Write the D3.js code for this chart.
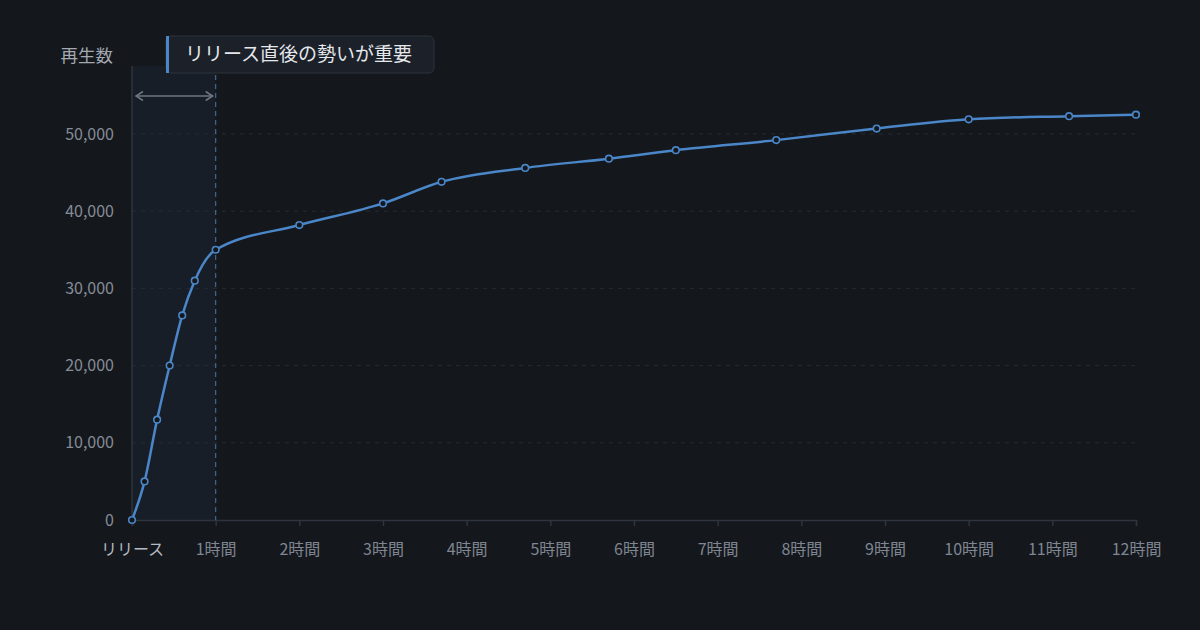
<!DOCTYPE html>
<html>
<head>
<meta charset="utf-8">
<script src="https://cdn.jsdelivr.net/npm/d3@7"></script>
<style>
  html, body { margin: 0; padding: 0; background: #14171c; }
  svg { display: block; font-family: "Noto Sans CJK JP", "Noto Sans", sans-serif; }
</style>
</head>
<body>
<div id="chart"></div>
<script>
"use strict";

// hours since release
const hours = [0, 0.15, 0.3, 0.45, 0.6, 0.75, 1, 2, 3, 3.7, 4.7, 5.7, 6.5, 7.7, 8.9, 10, 11.2, 12];
// play count
const plays = [0, 5000, 13000, 20000, 26500, 31000, 35000, 38200, 41000, 43800, 45600, 46800, 47900, 49200, 50700, 51900, 52300, 52500];

const xTicks = [0, 1, 2, 3, 4, 5, 6, 7, 8, 9, 10, 11, 12];
const xTickLabels = ["リリース", "1時間", "2時間", "3時間", "4時間", "5時間", "6時間", "7時間", "8時間", "9時間", "10時間", "11時間", "12時間"];
const yTicks = [0, 10000, 20000, 30000, 40000, 50000];

const yTitle = "再生数";
const callout = "リリース直後の勢いが重要";
const focusEnd = 1; // hours

const width = 1200, height = 630;
const margin = {top: 66, right: 64, bottom: 110, left: 132};

const svg = d3.select("#chart").append("svg")
    .attr("width", width)
    .attr("height", height);

svg.append("rect")
    .attr("width", width)
    .attr("height", height)
    .attr("fill", "#14171c");

const x = d3.scaleLinear()
    .domain([0, 12])
    .range([margin.left, width - margin.right]);

const y = d3.scaleLinear()
    .domain([0, d3.max(plays) * 1.12])
    .range([height - margin.bottom, margin.top]);

const data = hours.map(function(h, i) { return {h: h, v: plays[i]}; });

// first-hour band
svg.append("rect")
    .attr("x", x(0))
    .attr("y", margin.top)
    .attr("width", x(focusEnd) - x(0))
    .attr("height", y(0) - margin.top)
    .attr("fill", "#181e27");

// grid
svg.append("g")
    .selectAll("line")
    .data(yTicks.filter(function(d) { return d > 0; }))
    .enter().append("line")
    .attr("x1", x(0))
    .attr("x2", x(12))
    .attr("y1", function(d) { return y(d); })
    .attr("y2", function(d) { return y(d); })
    .attr("stroke", "#272c33")
    .attr("stroke-dasharray", "4,5");

// y axis line
svg.append("line")
    .attr("x1", x(0)).attr("x2", x(0))
    .attr("y1", margin.top).attr("y2", y(0))
    .attr("stroke", "#2f353e")
    .attr("stroke-width", 1.5);

// y labels
svg.append("g")
    .selectAll("text")
    .data(yTicks)
    .enter().append("text")
    .attr("x", x(0) - 18)
    .attr("y", function(d) { return y(d); })
    .attr("dy", "0.35em")
    .attr("text-anchor", "end")
    .attr("fill", "#858c96")
    .style("font-size", "16px")
    .text(function(d) { return d3.format(",")(d); });

svg.append("text")
    .attr("x", 113)
    .attr("y", 62)
    .attr("text-anchor", "end")
    .attr("fill", "#a3a9b1")
    .style("font-size", "17.5px")
    .text(yTitle);

// x axis
const xAxis = d3.axisBottom(x)
    .tickValues(xTicks)
    .tickSize(6)
    .tickPadding(18)
    .tickFormat(function(d, i) { return xTickLabels[i]; });

const gx = svg.append("g")
    .attr("transform", "translate(0," + y(0) + ")")
    .call(xAxis);
gx.select(".domain").attr("stroke", "#2f353e").attr("stroke-width", 1.5);
gx.selectAll(".tick line").attr("stroke", "#2f353e").attr("stroke-width", 1.5);
gx.selectAll(".tick text")
    .attr("fill", function(d) { return d === 0 ? "#b4bac2" : "#7f8691"; })
    .style("font-size", "16px")
    .style("font-family", "'Noto Sans CJK JP', sans-serif");

// 1 hour marker
svg.append("line")
    .attr("x1", x(focusEnd)).attr("x2", x(focusEnd))
    .attr("y1", margin.top).attr("y2", y(0))
    .attr("stroke", "#48688e")
    .attr("stroke-width", 1.2)
    .attr("stroke-dasharray", "5,4");

// double arrow across first hour
const ay = 96;
const ax0 = x(0) + 4, ax1 = x(focusEnd) - 3;
svg.append("line")
    .attr("x1", ax0).attr("x2", ax1)
    .attr("y1", ay).attr("y2", ay)
    .attr("stroke", "#6f7680")
    .attr("stroke-width", 1.5);
svg.append("path")
    .attr("d", "M" + (ax0 + 7) + "," + (ay - 4.5) + "L" + ax0 + "," + ay + "L" + (ax0 + 7) + "," + (ay + 4.5) +
               "M" + (ax1 - 7) + "," + (ay - 4.5) + "L" + ax1 + "," + ay + "L" + (ax1 - 7) + "," + (ay + 4.5))
    .attr("fill", "none")
    .attr("stroke", "#6f7680")
    .attr("stroke-width", 1.5);

// line
const line = d3.line()
    .x(function(d) { return x(d.h); })
    .y(function(d) { return y(d.v); })
    .curve(d3.curveMonotoneX);

svg.append("path")
    .datum(data)
    .attr("d", line)
    .attr("fill", "none")
    .attr("stroke", "#4a86c8")
    .attr("stroke-width", 2.5);

svg.append("g")
    .selectAll("circle")
    .data(data)
    .enter().append("circle")
    .attr("cx", function(d) { return x(d.h); })
    .attr("cy", function(d) { return y(d.v); })
    .attr("r", 3.3)
    .attr("fill", "#14171c")
    .attr("stroke", "#4a86c8")
    .attr("stroke-width", 1.6);

// callout box
const bx = 166, by = 36, bw = 268, bh = 37;
svg.append("rect")
    .attr("x", bx).attr("y", by)
    .attr("width", bw).attr("height", bh)
    .attr("rx", 5)
    .attr("fill", "#1b2029")
    .attr("stroke", "#2c323b");
svg.append("rect")
    .attr("x", bx).attr("y", by)
    .attr("width", 3).attr("height", bh)
    .attr("fill", "#4a86c8");
svg.append("text")
    .attr("x", bx + 19)
    .attr("y", by + bh / 2)
    .attr("dy", "0.36em")
    .attr("fill", "#e4e7eb")
    .style("font-size", "19px")
    .text(callout);
</script>
</body>
</html>
